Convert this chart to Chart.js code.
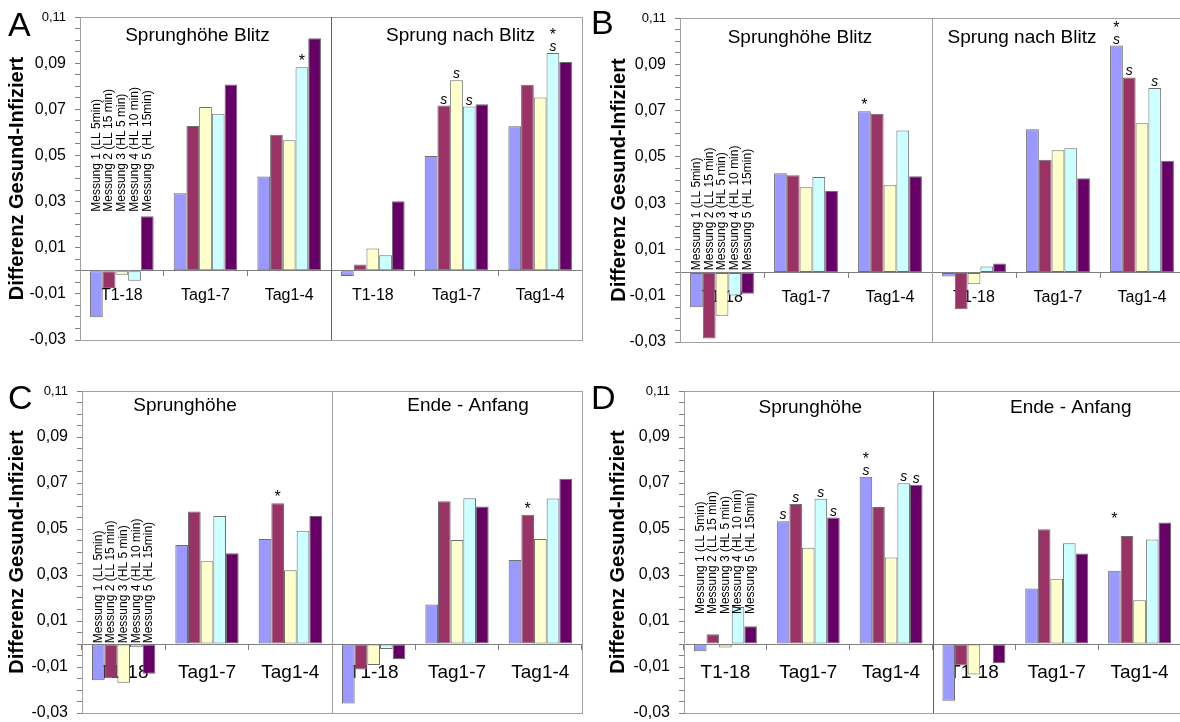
<!DOCTYPE html>
<html>
<head>
<meta charset="utf-8">
<script src="https://cdn.jsdelivr.net/npm/chart.js@4.4.1/dist/chart.umd.min.js"></script>
<style>
  body { margin: 0; background: #fff; width: 1180px; height: 722px; overflow: hidden; position: relative; }
  canvas { position: absolute; }
</style>
</head>
<body>
<canvas id="pA" width="590" height="361" style="left:0;top:0;width:590px;height:361px"></canvas>
<canvas id="pB" width="600" height="361" style="left:590px;top:0;width:600px;height:361px"></canvas>
<canvas id="pC" width="590" height="371" style="left:0;top:361px;width:590px;height:371px"></canvas>
<canvas id="pD" width="600" height="371" style="left:590px;top:361px;width:600px;height:371px"></canvas>
<script>
const FONT = "'Liberation Sans', Arial, sans-serif";

const categories = ['T1-18', 'Tag1-7', 'Tag1-4', 'T1-18', 'Tag1-7', 'Tag1-4'];
const seriesNames = [
  'Messung 1 (LL 5min)',
  'Messung 2 (LL 15 min)',
  'Messung 3 (HL 5 min)',
  'Messung 4 (HL 10 min)',
  'Messung 5 (HL 15min)'
];
const seriesColors = ['#9999ff', '#993366', '#ffffcc', '#ccffff', '#660066'];

// one row per Messung, six groups each (left half | right half)
const valuesA = [
  [-0.0201, 0.0336, 0.0409, -0.0023, 0.0498, 0.0626],
  [-0.0075, 0.0628, 0.0590, 0.0027, 0.0716, 0.0806],
  [-0.0017, 0.0710, 0.0566, 0.0097, 0.0826, 0.0751],
  [-0.0043, 0.0681, 0.0882, 0.0067, 0.0712, 0.0944],
  [0.0236, 0.0807, 0.1008, 0.0301, 0.0722, 0.0905]
];
const valuesB = [
  [-0.0150, 0.0429, 0.0697, -0.0017, 0.0619, 0.0981],
  [-0.0285, 0.0420, 0.0686, -0.0158, 0.0488, 0.0843],
  [-0.0187, 0.0369, 0.0377, -0.0050, 0.0529, 0.0645],
  [-0.0099, 0.0413, 0.0614, 0.0026, 0.0537, 0.0797],
  [-0.0092, 0.0353, 0.0416, 0.0039, 0.0408, 0.0483]
];
const valuesC = [
  [-0.0158, 0.0430, 0.0457, -0.0259, 0.0172, 0.0365],
  [-0.0149, 0.0576, 0.0612, -0.0111, 0.0621, 0.0562],
  [-0.0169, 0.0360, 0.0321, -0.0091, 0.0452, 0.0456],
  [-0.0014, 0.0556, 0.0492, -0.0022, 0.0634, 0.0633],
  [-0.0129, 0.0395, 0.0557, -0.0065, 0.0598, 0.0718]
];
const valuesD = [
  [-0.0032, 0.0534, 0.0727, -0.0247, 0.0241, 0.0319],
  [0.0042, 0.0609, 0.0596, -0.0093, 0.0499, 0.0470],
  [-0.0015, 0.0419, 0.0376, -0.0133, 0.0284, 0.0190],
  [0.0161, 0.0631, 0.0699, null, 0.0438, 0.0454],
  [0.0077, 0.0550, 0.0692, -0.0084, 0.0393, 0.0528]
];

const titlesA = ['Sprunghöhe Blitz', 'Sprung nach Blitz'];
const titlesB = ['Sprunghöhe Blitz', 'Sprung nach Blitz'];
const titlesC = ['Sprunghöhe', 'Ende - Anfang'];
const titlesD = ['Sprunghöhe', 'Ende - Anfang'];

// [series, group, marks stacked upwards from the bar top]
const marksA = [[3, 2, '*'], [1, 4, 's'], [2, 4, 's'], [3, 4, 's'], [3, 5, 's*']];
const marksB = [[0, 2, '*'], [0, 5, 's*'], [1, 5, 's'], [3, 5, 's']];
const marksC = [[1, 2, '*'], [1, 5, '*']];
const marksD = [[0, 1, 's'], [1, 1, 's'], [3, 1, 's'], [4, 1, 's'], [0, 2, 's*'], [3, 2, 's'], [4, 2, 's'], [0, 5, '*']];

const yMin = -0.03, yMax = 0.11, yMinorStep = 0.005, yLabelStep = 0.02;
const yAxisTitle = 'Differenz Gesund-Infiziert';

const panelDecor = {
  id: 'panelDecor',
  beforeDatasetsDraw(chart, args, o) {
    const { ctx, chartArea: a } = chart;
    const xs = chart.scales.x;
    ctx.save();
    ctx.strokeStyle = '#a0a0a0';
    ctx.lineWidth = 1;
    ctx.strokeRect(Math.round(a.left) + 0.5, Math.round(a.top) + 0.5, Math.round(a.width), Math.round(a.height));
    const dx = Math.round((xs.getPixelForValue(2) + xs.getPixelForValue(3)) / 2) + 0.5;
    ctx.strokeStyle = o.dividerColor;
    ctx.beginPath();
    ctx.moveTo(dx, a.top);
    ctx.lineTo(dx, a.bottom);
    ctx.stroke();
    ctx.restore();
  },
  afterDatasetsDraw(chart, args, o) {
    const { ctx, chartArea: a } = chart;
    const xs = chart.scales.x, ys = chart.scales.y;
    ctx.save();
    ctx.fillStyle = '#000';
    // panel titles
    ctx.font = '19px ' + FONT;
    ctx.textAlign = 'center';
    ctx.textBaseline = 'alphabetic';
    o.titles.forEach((t, h) => {
      const cx = (xs.getPixelForValue(h * 3) + xs.getPixelForValue(h * 3 + 2)) / 2 + o.titleShift[h];
      ctx.fillText(t, cx, a.top + o.titleDy);
    });
    // rotated series names over the first group
    ctx.font = '12px ' + FONT;
    ctx.textAlign = 'left';
    ctx.textBaseline = 'middle';
    const yb = ys.getPixelForValue(o.legendBase);
    seriesNames.forEach((name, i) => {
      const bar = chart.getDatasetMeta(i).data[0];
      ctx.save();
      ctx.translate(bar.x, yb);
      ctx.rotate(-Math.PI / 2);
      ctx.fillText(name, 0, 0);
      ctx.restore();
    });
    // significance marks
    ctx.textAlign = 'center';
    ctx.textBaseline = 'alphabetic';
    o.marks.forEach(([s, g, txt]) => {
      const bar = chart.getDatasetMeta(s).data[g];
      const lift = (o.lift && o.lift[s + ',' + g]) || 0;
      let y = Math.min(bar.y, bar.base) - 2 - lift;
      txt.split('').forEach(ch => {
        if (ch === 's') {
          ctx.font = 'italic 14px ' + FONT;
          ctx.fillText('s', bar.x, y);
          y -= 12;
        } else {
          ctx.font = '16px ' + FONT;
          ctx.fillText('*', bar.x, y + 1);
          y -= 12;
        }
      });
    });
    ctx.restore();
  },
  afterDraw(chart, args, o) {
    const { ctx } = chart;
    ctx.save();
    ctx.fillStyle = '#000';
    ctx.font = '34px ' + FONT;
    ctx.textAlign = 'left';
    ctx.textBaseline = 'alphabetic';
    ctx.fillText(o.letter, o.letterAt[0], o.letterAt[1]);
    ctx.restore();
  }
};

function isMajor(v) {
  return Math.abs(Math.round((v - yMin) / yLabelStep) * yLabelStep - (v - yMin)) < 1e-6;
}

function makePanel(p) {
  const datasets = seriesNames.map((name, i) => ({
    label: name,
    data: p.values[i],
    backgroundColor: seriesColors[i],
    borderColor: '#6e6e6e',
    borderWidth: 1,
    borderSkipped: false,
    categoryPercentage: 0.76,
    barPercentage: 1.0
  }));
  new Chart(document.getElementById(p.id), {
    type: 'bar',
    data: { labels: categories, datasets },
    plugins: [panelDecor],
    options: {
      responsive: false,
      animation: false,
      layout: { padding: p.pad },
      plugins: {
        legend: { display: false },
        tooltip: { enabled: false },
        panelDecor: {
          letter: p.letter, letterAt: p.letterAt, titles: p.titles, titleShift: p.titleShift,
          titleDy: p.titleDy, legendBase: p.legendBase, marks: p.marks, lift: p.lift,
          dividerColor: p.dividerColor
        }
      },
      scales: {
        x: {
          position: { y: 0 },
          z: 1,
          offset: true,
          afterFit(scale) { scale.height = 0; },
          grid: { offset: true, drawOnChartArea: false, drawTicks: true, tickLength: 5, color: '#808080' },
          border: { display: true, color: '#808080', width: 1 },
          ticks: { color: '#000', font: { family: FONT, size: p.xFont }, padding: p.xPad, maxRotation: 0, autoSkip: false }
        },
        y: {
          min: yMin,
          max: yMax,
          afterFit(scale) { scale.width = p.axisW; },
          afterBuildTicks(scale) {
            const t = [];
            for (let k = 0; yMin + k * yMinorStep <= yMax + 1e-9; k++) {
              t.push({ value: +(yMin + k * yMinorStep).toFixed(3) });
            }
            scale.ticks = t;
          },
          grid: { drawOnChartArea: false, drawTicks: true, tickLength: 5, color: '#808080' },
          border: { display: true, color: '#808080', width: 1 },
          title: {
            display: true, text: yAxisTitle, color: '#000',
            font: { family: FONT, size: 20, weight: 'bold' },
            padding: { top: p.yTitlePad, bottom: 0 }
          },
          ticks: {
            autoSkip: false,
            color: '#000',
            padding: 9,
            font: (c) => ({ family: FONT, size: c.tick && c.tick.value > 0.105 ? 13 : 16 }),
            callback: (v) => isMajor(v) ? v.toFixed(2).replace('.', ',') : ''
          }
        }
      }
    }
  });
}

const panels = [
  { id: 'pA', letter: 'A', letterAt: [8, 36], values: valuesA, titles: titlesA, marks: marksA,
    axisW: 80, pad: { left: 0, top: 17, right: 8, bottom: 21 }, yTitlePad: 5,
    titleShift: [-8, 4], titleDy: 24, legendBase: 0.0256, xFont: 16, xPad: 10, dividerColor: '#606060' },
  { id: 'pB', letter: 'B', letterAt: [1, 34], values: valuesB, titles: titlesB, marks: marksB,
    axisW: 90, pad: { left: 0, top: 18, right: 6, bottom: 19 }, yTitlePad: 17,
    titleShift: [-6, -36], titleDy: 25, legendBase: 0.001, xFont: 16, xPad: 10, dividerColor: '#a0a0a0' },
  { id: 'pC', letter: 'C', letterAt: [8, 48], values: valuesC, titles: titlesC, marks: marksC,
    axisW: 82, pad: { left: 0, top: 30, right: 8, bottom: 19 }, yTitlePad: 5,
    titleShift: [-22, 11], titleDy: 20, legendBase: 0.0003, xFont: 19, xPad: 12, dividerColor: '#a0a0a0' },
  { id: 'pD', letter: 'D', letterAt: [1, 48], values: valuesD, titles: titlesD, marks: marksD,
    lift: { '0,5': 46 },
    axisW: 94, pad: { left: 0, top: 30, right: 9, bottom: 19 }, yTitlePad: 16,
    titleShift: [2, 14], titleDy: 22, legendBase: 0.013, xFont: 19, xPad: 12, dividerColor: '#606060' }
];

panels.forEach(makePanel);
</script>
</body>
</html>
